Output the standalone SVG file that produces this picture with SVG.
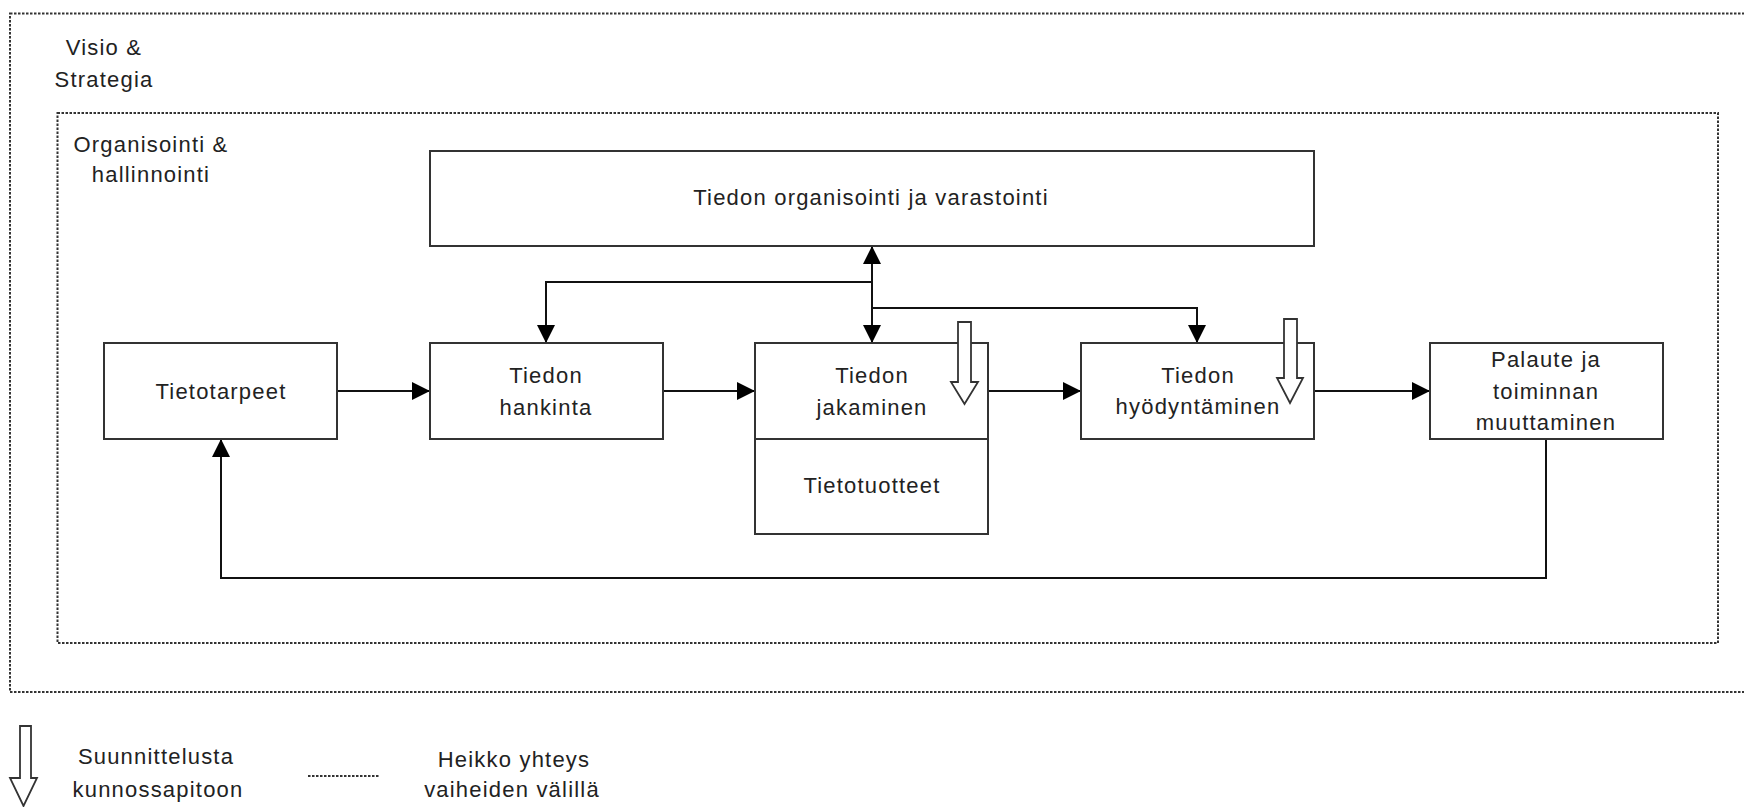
<svg xmlns="http://www.w3.org/2000/svg" width="1744" height="807" viewBox="0 0 1744 807">
  <style>
    .frame { fill: none; stroke: #333; stroke-width: 2; stroke-dasharray: 2.5 1.5; }
    .box { fill: #ffffff; stroke: #333; stroke-width: 2; }
    .conn { fill: none; stroke: #111; stroke-width: 2; }
    .block { fill: #ffffff; stroke: #333; stroke-width: 1.8; stroke-linejoin: miter; }
    text { font-family: "Liberation Sans", Arial, sans-serif; font-size: 22px; fill: #222; letter-spacing: 1.2px; }
    .c { text-anchor: middle; }
  </style>
  <defs>
    <marker id="arrow" viewBox="0 0 18 18" refX="18" refY="9" markerWidth="18" markerHeight="18" markerUnits="userSpaceOnUse" orient="auto-start-reverse">
      <path d="M0,0 L18,9 L0,18 z" fill="#000"/>
    </marker>
  </defs>

  <rect width="1744" height="807" fill="#ffffff"/>

  <g id="visio-strategia">
    <rect class="frame" x="10" y="13.5" width="1760" height="678.5"/>
    <text class="c" x="104" y="55">Visio &amp;</text>
    <text class="c" x="104" y="87">Strategia</text>
  </g>

  <g id="organisointi-hallinnointi">
    <rect class="frame" x="57.5" y="113" width="1660.5" height="530"/>
    <text class="c" x="151" y="152">Organisointi &amp;</text>
    <text class="c" x="151" y="182">hallinnointi</text>
  </g>

  <g id="connectors">
    <line class="conn" x1="337" y1="391" x2="430" y2="391" marker-end="url(#arrow)"/>
    <line class="conn" x1="663" y1="391" x2="755" y2="391" marker-end="url(#arrow)"/>
    <line class="conn" x1="988" y1="391" x2="1081" y2="391" marker-end="url(#arrow)"/>
    <line class="conn" x1="1314" y1="391" x2="1430" y2="391" marker-end="url(#arrow)"/>
    <path class="conn" d="M1546,439 V578 H221 V439" marker-end="url(#arrow)"/>
    <line class="conn" x1="872" y1="246" x2="872" y2="343" marker-start="url(#arrow)" marker-end="url(#arrow)"/>
    <path class="conn" d="M872,282 H546 V343" marker-end="url(#arrow)"/>
    <path class="conn" d="M872,308 H1197 V343" marker-end="url(#arrow)"/>
  </g>

  <g id="tiedon-organisointi">
    <rect class="box" x="430" y="151" width="884" height="95"/>
    <text class="c" x="871" y="205">Tiedon organisointi ja varastointi</text>
  </g>

  <g id="tietotarpeet">
    <rect class="box" x="104" y="343" width="233" height="96"/>
    <text class="c" x="221" y="399">Tietotarpeet</text>
  </g>

  <g id="tiedon-hankinta">
    <rect class="box" x="430" y="343" width="233" height="96"/>
    <text class="c" x="546" y="383">Tiedon</text>
    <text class="c" x="546" y="415">hankinta</text>
  </g>

  <g id="tiedon-jakaminen">
    <rect class="box" x="755" y="343" width="233" height="96"/>
    <text class="c" x="872" y="383">Tiedon</text>
    <text class="c" x="872" y="415">jakaminen</text>
    <path class="block" d="M958,322 H971 V382 H978 L964.5,404 L951,382 H958 Z"/>
  </g>

  <g id="tietotuotteet">
    <rect class="box" x="755" y="439" width="233" height="95"/>
    <text class="c" x="872" y="493">Tietotuotteet</text>
  </g>

  <g id="tiedon-hyodyntaminen">
    <rect class="box" x="1081" y="343" width="233" height="96"/>
    <text class="c" x="1198" y="383">Tiedon</text>
    <text class="c" x="1198" y="414">hyödyntäminen</text>
    <path class="block" d="M1284,319 H1297 V378 H1303 L1290,403 L1277,378 H1284 Z"/>
  </g>

  <g id="palaute">
    <rect class="box" x="1430" y="343" width="233" height="96"/>
    <text class="c" x="1546" y="367">Palaute ja</text>
    <text class="c" x="1546" y="399">toiminnan</text>
    <text class="c" x="1546" y="430">muuttaminen</text>
  </g>

  <g id="legend-suunnittelusta">
    <path class="block" d="M20,726 H31 V778 H37 L23.5,806 L10,778 H20 Z"/>
    <text class="c" x="156" y="764">Suunnittelusta</text>
    <text class="c" x="158" y="797">kunnossapitoon</text>
  </g>

  <g id="legend-heikko">
    <line class="frame" x1="308" y1="776" x2="380" y2="776"/>
    <text class="c" x="514" y="767">Heikko yhteys</text>
    <text class="c" x="512" y="797">vaiheiden välillä</text>
  </g>
</svg>
